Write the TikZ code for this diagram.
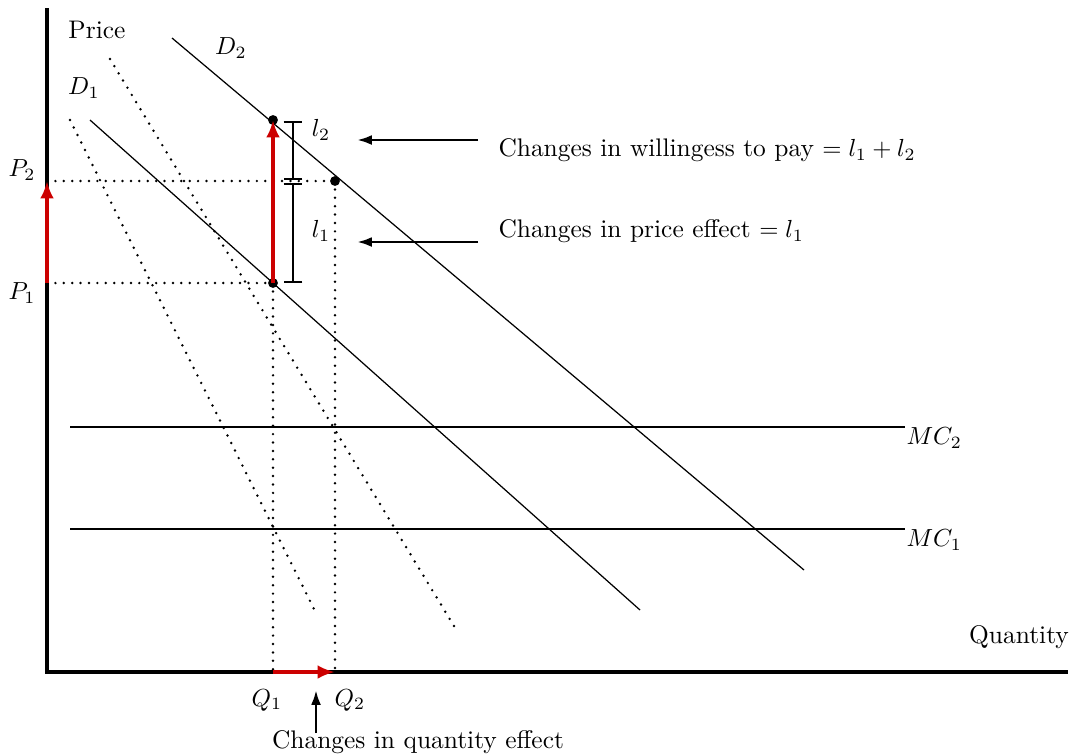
\documentclass[tikz,border=0pt]{standalone}
\usetikzlibrary{arrows.meta}
\definecolor{arrred}{RGB}{204,0,0}
\begin{document}
\begin{tikzpicture}[x=0.405pt,y=-0.405pt,
  every node/.style={font=\fontsize{10.3}{12}\selectfont},
  axis/.style={line width=1.5pt},
  curve/.style={line width=0.5pt},
  dotline/.style={line width=1.1pt,line cap=round,dash pattern=on 0pt off 3.4pt},
  redarrow/.style={line width=1.7pt,arrred,-{Latex[length=7pt,width=5.5pt]}},
  blackarrow/.style={line width=1.1pt,-{Latex[length=6pt,width=4pt]}},
  bar/.style={line width=1pt,{Bar[width=7.5pt]}-{Bar[width=7.5pt]}},
  dot/.style={circle,fill=black,inner sep=0pt,minimum size=4pt},
  lbl/.style={inner sep=0pt}]
\useasboundingbox (0,0) rectangle (1071,754);
% axes
\coordinate (O) at (47,672);
\coordinate (Ytop) at (47,8);
\coordinate (Xend) at (1068,672);
\draw[axis] (Ytop) -- (O) -- (Xend);
\node[lbl,anchor=west] (price) at (68,30) {Price};
\node[lbl] (quantity) at (1019,637) {Quantity};
% demand curves
\coordinate (D1a) at (90,120); \coordinate (D1b) at (640,610);
\coordinate (D2a) at (172,38); \coordinate (D2b) at (804,570);
\draw[curve] (D1a) -- (D1b);
\draw[curve] (D2a) -- (D2b);
\node[lbl] (d1) at (84,88) {$D_1$};
\node[lbl] (d2) at (231,48) {$D_2$};
% dotted curves
\coordinate (E1a) at (70,120); \coordinate (E1b) at (315,611);
\coordinate (E2a) at (110,59); \coordinate (E2b) at (457,631);
\draw[dotline] (E1a) -- (E1b);
\draw[dotline] (E2a) -- (E2b);
% MC lines
\coordinate (MC2a) at (70,427); \coordinate (MC2b) at (905,427);
\coordinate (MC1a) at (70,529); \coordinate (MC1b) at (905,529);
\draw[curve] (MC2a) -- (MC2b);
\draw[curve] (MC1a) -- (MC1b);
\node[lbl,anchor=west] (mc2) at (906,438) {$MC_2$};
\node[lbl,anchor=west] (mc1) at (906,540) {$MC_1$};
% points
\node[dot] (A) at (273,120) {};
\node[dot] (B) at (273,283) {};
\node[dot] (C) at (335,181) {};
\coordinate (P1) at (47,283); \coordinate (P2) at (47,181);
\coordinate (Q1) at (273,672); \coordinate (Q2) at (335,672);
\draw[dotline] (P2) -- (C.center);
\draw[dotline] (P1) -- (B.center);
\draw[dotline] (B.center) -- (Q1);
\draw[dotline] (C.center) -- (Q2);
\node[lbl] (p2) at (22,170) {$P_2$};
\node[lbl] (p1) at (22,293) {$P_1$};
\node[lbl] (q1) at (267,700) {$Q_1$};
\node[lbl] (q2) at (350,700) {$Q_2$};
% red arrows
\draw[redarrow] (B.center) -- (A.center);
\draw[redarrow] (P1) -- (P2);
\draw[redarrow] (Q1) -- (Q2);
% brackets
\coordinate (L2a) at (293,121); \coordinate (L2b) at (293,180);
\coordinate (L1a) at (293,183); \coordinate (L1b) at (293,283);
\draw[bar] (L2a) -- (L2b);
\draw[bar] (L1a) -- (L1b);
\node[lbl] (l2) at (321,130) {$l_2$};
\node[lbl] (l1) at (321,231) {$l_1$};
% explanation arrows
\node[lbl,anchor=west] (t2) at (498,150) {Changes in willingess to pay $= l_1 + l_2$};
\node[lbl,anchor=west] (t1) at (498,231) {Changes in price effect $= l_1$};
\coordinate (a2s) at (478,140); \coordinate (a2e) at (357,140);
\coordinate (a1s) at (478,242); \coordinate (a1e) at (357,242);
\draw[blackarrow] (a2s) -- (a2e);
\draw[blackarrow] (a1s) -- (a1e);
\node[lbl] (tq) at (418,742) {Changes in quantity effect};
\coordinate (aqs) at (316,733); \coordinate (aqe) at (316,690);
\draw[blackarrow] (aqs) -- (aqe);
\end{tikzpicture}
\end{document}
